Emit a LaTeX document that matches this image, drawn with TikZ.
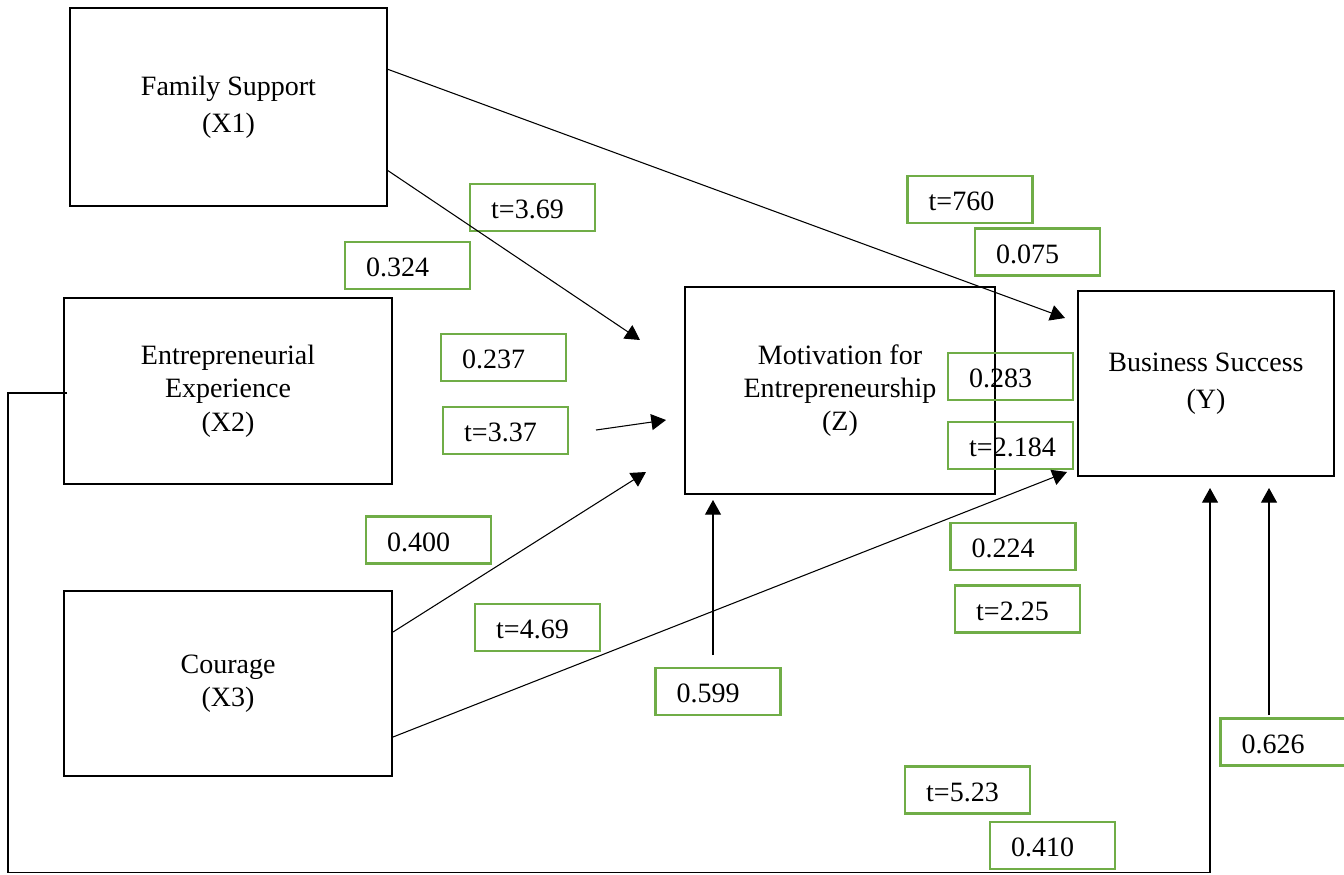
\documentclass[tikz,border=0pt]{standalone}
\usepackage{fontspec}
\setmainfont{Liberation Serif}
\usetikzlibrary{arrows.meta}
\definecolor{valgreen}{RGB}{112,173,71}
\tikzset{
  var/.style={draw,line width=1.5pt,align=center,inner sep=0pt,
    font=\fontsize{21}{25}\selectfont},
  val/.style={draw=valgreen,line width=1.8pt,minimum width=93.75pt,minimum height=35pt,
    text width=62pt,align=left,text height=17pt,text depth=0pt,inner ysep=0pt,
    font=\fontsize{21}{25}\selectfont},
  link/.style={-{Triangle[length=11pt,width=12pt]},line width=0.8pt}
}
\begin{document}
\begin{tikzpicture}[x=0.75pt,y=-0.75pt]
\useasboundingbox (0,0) rectangle (1344,874);
% variables
\node[var,minimum width=237.75pt,minimum height=148.5pt,font=\fontsize{21}{28}\selectfont] (fs) at (228.5,107) {Family Support\\(X1)};
\node[var,minimum width=246pt,minimum height=139.5pt] (ee) at (228,391) {Entrepreneurial\\Experience\\(X2)};
\node[var,minimum width=246pt,minimum height=138.75pt] (cg) at (228,683.5) {Courage\\(X3)};
\node[var,minimum width=232.5pt,minimum height=155.25pt] (mot) at (840,390.5) {Motivation for\\Entrepreneurship\\(Z)};
\node[var,minimum width=192pt,minimum height=138.75pt,font=\fontsize{21}{28}\selectfont] (bs) at (1206,383.5) {Business Success\\(Y)};
% coefficients
\node[val] (t369) at (532.5,207.5) {t=3.69};
\node[val] (c324) at (407.5,265.5) {0.324};
\node[val] (c237) at (503.5,357.5) {0.237};
\node[val] (t337) at (505.5,430.5) {t=3.37};
\node[val] (c400) at (428.5,540) {0.400};
\node[val] (t469) at (537.5,627.5) {t=4.69};
\node[val] (c599) at (718,691.5) {0.599};
\node[val] (t760) at (970,199.5) {t=760};
\node[val] (c075) at (1037.5,252) {0.075};
\node[val] (c283) at (1010.5,376.5) {0.283};
\node[val] (t2184) at (1010.5,445.5) {t=2.184};
\node[val] (c224) at (1013,546.5) {0.224};
\node[val] (t225) at (1017.5,609) {t=2.25};
\node[val] (c626) at (1283,742) {0.626};
\node[val] (t523) at (967.5,790) {t=5.23};
\node[val] (c410) at (1052.5,845.5) {0.410};
% arrow ends
\coordinate (fsA) at (387,69);
\coordinate (fsB) at (387,170);
\coordinate (cgA) at (393,632);
\coordinate (cgB) at (393,737);
\coordinate (bsA) at (1065,318);
\coordinate (bsB) at (1067,472);
\coordinate (bsC) at (1210,488);
\coordinate (bsD) at (1269,488);
\coordinate (motA) at (640,340);
\coordinate (motB) at (666,420);
\coordinate (motC) at (646,472);
\coordinate (motD) at (713,500);
\coordinate (t337e) at (596,430);
\coordinate (c599n) at (713,655);
\coordinate (c626n) at (1269,715);
\coordinate (eeW) at (67,393);
\draw[link] (fsA) -- (bsA);
\draw[link] (fsB) -- (motA);
\draw[link] (t337e) -- (motB);
\draw[link] (cgA) -- (motC);
\draw[link] (cgB) -- (bsB);
\draw[link] (c599n) -- (motD);
\draw[link] (c626n) -- (bsD);
\draw[link] (eeW) -- (8,393) -- (8,872.5) -- (1210,872.5) -- (bsC);
\end{tikzpicture}
\end{document}
